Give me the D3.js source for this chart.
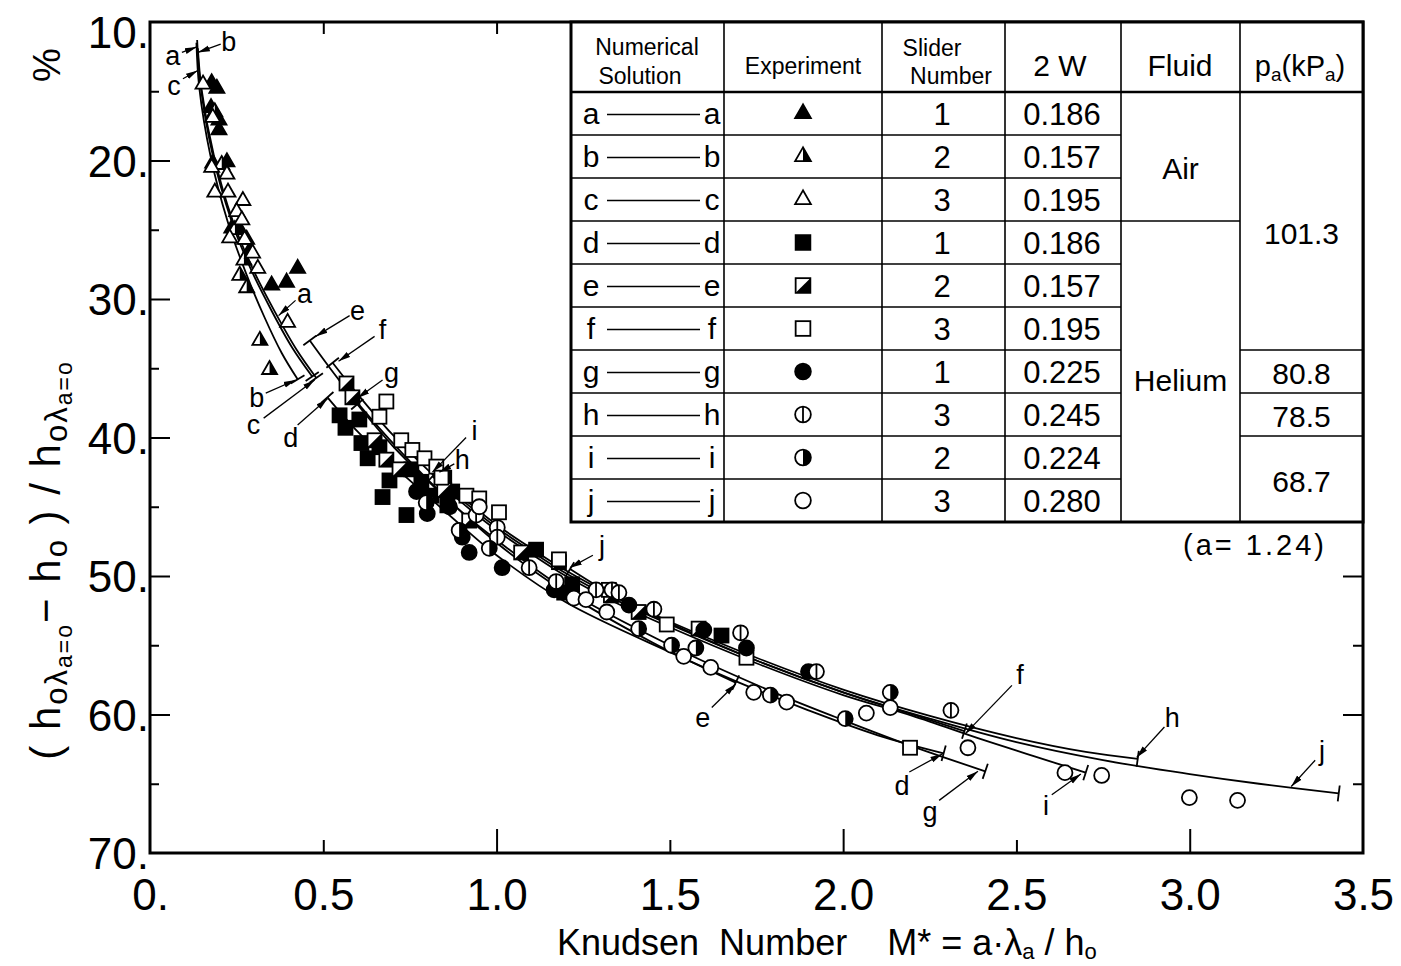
<!DOCTYPE html>
<html><head><meta charset="utf-8">
<script src="https://cdn.jsdelivr.net/npm/d3@7"></script>
<style>
body{margin:0;background:#fff}
svg{display:block}
text{font-family:"Liberation Sans",Arial,sans-serif;fill:#000}
</style></head>
<body><svg id="c" width="1401" height="966"></svg>
<script>
// ---------------- DATA ----------------
const xTickVals = [0, 0.5, 1.0, 1.5, 2.0, 2.5, 3.0, 3.5];
const xTickLabels = ["0.", "0.5", "1.0", "1.5", "2.0", "2.5", "3.0", "3.5"];
const yTickVals = [10, 20, 30, 40, 50, 60, 70];
const yTickLabels = ["10.", "20.", "30.", "40.", "50.", "60.", "70."];

// numerical solutions (curves): [M*, %]
const numA = [[0.136,11.3],[0.146,14.6],[0.180,19.5],[0.233,24.2],[0.292,27.9],[0.352,30.9],[0.410,33.5],[0.468,35.6]];
const numB = [[0.134,11.5],[0.142,14.7],[0.174,19.6],[0.224,24.4],[0.278,28.2],[0.330,31.3],[0.380,33.9],[0.426,35.8]];
const numC = [[0.138,11.9],[0.149,14.9],[0.184,19.6],[0.238,24.3],[0.298,27.9],[0.362,31.0],[0.424,33.7],[0.480,35.7]];
const numD = [[0.512,37.1],[0.6,39.6],[0.7,42.0],[0.8,44.2],[0.9,46.4],[1.0,48.5],[1.2,51.9],[1.5,55.5],[1.7,57.7],[1.9,59.7],[2.1,61.5],[2.29,62.8]];
const numE = [[0.461,33.0],[0.55,36.0],[0.65,39.0],[0.8,43.0],[1.0,47.6],[1.2,51.2],[1.45,54.8],[1.69,57.7]];
const numF = [[0.527,34.6],[0.6,36.9],[0.7,39.8],[0.8,42.3],[0.9,44.5],[1.0,46.5],[1.1,48.2],[1.2,49.8],[1.35,51.8],[1.5,53.5],[1.75,56.1],[2.0,58.4],[2.2,60.0],[2.35,61.2]];
const numG = [[0.598,37.6],[0.7,40.6],[0.8,43.1],[0.9,45.4],[1.0,47.4],[1.2,51.0],[1.5,55.0],[1.8,58.4],[2.0,60.4],[2.2,62.3],[2.41,64.1]];
const numH = [[0.835,42.9],[0.9,44.3],[1.0,46.3],[1.1,48.0],[1.2,49.6],[1.35,51.6],[1.5,53.3],[1.75,55.9],[2.0,58.2],[2.25,60.1],[2.5,61.7],[2.7,62.7],[2.85,63.2]];
const numI = [[0.815,42.8],[0.9,44.7],[1.0,46.7],[1.1,48.4],[1.2,50.0],[1.35,52.0],[1.5,53.7],[1.75,56.3],[2.0,58.6],[2.2,60.1],[2.4,61.8],[2.55,63.0],[2.70,64.2]];
const numJ = [[1.212,49.5],[1.35,51.6],[1.5,53.4],[1.75,56.1],[2.0,58.4],[2.25,60.3],[2.5,62.0],[2.75,63.3],[3.0,64.3],[3.2,65.0],[3.43,65.7]];

// experiments: [M*, %]
const expA = [[0.178,14.4],[0.193,14.8],[0.176,16.2],[0.199,17.1],[0.199,17.8],[0.181,20.2],[0.222,20.1],[0.236,24.9],[0.259,25.0],[0.279,25.7],[0.288,26.5],[0.351,29.0],[0.394,28.8],[0.426,27.8]];
const expB = [[0.187,16.5],[0.207,20.3],[0.245,25.0],[0.271,27.2],[0.259,28.3],[0.279,29.2],[0.317,33.0],[0.345,35.1]];
const expC = [[0.153,14.5],[0.181,16.9],[0.178,20.5],[0.222,21.0],[0.187,22.3],[0.225,22.3],[0.268,22.9],[0.250,23.7],[0.265,24.3],[0.230,25.6],[0.273,25.7],[0.296,26.7],[0.311,27.8],[0.397,31.7]];
const expD = [[0.547,38.4],[0.564,39.3],[0.604,38.7],[0.610,40.4],[0.628,41.5],[0.662,40.7],[0.691,43.1],[0.671,44.3],[0.740,45.6],[0.754,42.3],[0.783,43.2],[0.812,44.2],[0.849,42.9],[0.872,43.9],[0.858,44.9],[1.114,48.1],[1.218,50.6],[1.195,51.2],[1.649,54.3]];
const expE = [[0.567,36.1],[0.584,37.1],[0.648,40.2],[0.682,41.6],[0.720,42.3],[0.849,43.8],[0.921,46.0],[1.071,48.3],[1.180,49.0],[1.330,51.4],[1.410,52.6],[1.583,53.8]];
const expF = [[0.682,37.4],[0.662,38.5],[0.725,40.2],[0.757,40.9],[0.792,41.5],[0.826,42.1],[0.841,42.9],[0.913,44.2],[0.950,44.4],[1.007,45.4],[1.180,48.8],[1.324,51.0],[1.491,53.5],[1.721,55.9],[2.193,62.4]];
const expG = [[0.769,43.9],[0.800,45.5],[0.864,45.0],[0.901,47.2],[0.921,48.3],[1.016,49.4],[1.166,51.0],[1.382,52.1],[1.598,53.9],[1.721,55.2],[1.900,56.9]];
const expH = [[0.941,45.6],[1.002,46.5],[1.002,47.2],[1.094,49.4],[1.172,50.4],[1.287,51.0],[1.333,51.0],[1.353,51.2],[1.454,52.4],[1.704,54.1],[1.923,56.9],[2.311,59.7]];
const expI = [[0.797,44.7],[0.892,46.7],[0.979,48.0],[1.410,53.8],[1.505,55.0],[1.575,55.2],[1.790,58.6],[2.006,60.3],[2.136,58.4]];
const expJ = [[0.950,45.0],[1.223,51.6],[1.258,51.7],[1.318,52.6],[1.540,55.8],[1.618,56.6],[1.742,58.4],[1.837,59.1],[2.067,59.9],[2.136,59.5],[2.360,62.4],[2.640,64.2],[2.746,64.4],[2.999,66.0],[3.138,66.2]];

// curve labels: letter, label position, leader start, leader tip (data units)
const curveLabels = [
  ["a",[0.066,12.4],[0.092,12.2],[0.135,11.8]],
  ["b",[0.227,11.4],[0.204,11.6],[0.138,12.2]],
  ["c",[0.069,14.6],[0.095,14.1],[0.138,13.5]],
  ["a",[0.446,29.6],[0.420,30.1],[0.371,31.2]],
  ["b",[0.308,37.1],[0.334,36.8],[0.420,35.85]],
  ["c",[0.299,39.1],[0.328,38.6],[0.475,35.85]],
  ["d",[0.406,40.0],[0.426,39.1],[0.512,37.2]],
  ["e",[0.599,30.8],[0.576,31.2],[0.478,32.7]],
  ["f",[0.671,32.2],[0.648,32.7],[0.544,34.5]],
  ["g",[0.697,35.3],[0.671,35.85],[0.599,37.15]],
  ["i",[0.936,39.5],[0.912,40.0],[0.815,42.5]],
  ["h",[0.901,41.6],[0.878,41.9],[0.835,42.5]],
  ["j",[1.304,47.8],[1.278,48.5],[1.212,49.4]],
  ["e",[1.595,60.2],[1.621,59.5],[1.690,57.8]],
  ["f",[2.510,57.1],[2.487,57.9],[2.352,61.4]],
  ["h",[2.950,60.2],[2.927,60.9],[2.847,63.1]],
  ["j",[3.382,62.6],[3.362,63.3],[3.293,65.2]],
  ["d",[2.170,65.1],[2.191,64.15],[2.286,62.85]],
  ["g",[2.251,67.0],[2.277,66.2],[2.389,64.1]],
  ["i",[2.585,66.6],[2.602,65.8],[2.686,64.3]]
];

// table
const solLetters = ["a","b","c","d","e","f","g","h","i","j"];
const expSymbols = ["triFill","triHalf","triOpen","sqFill","sqHalf","sqOpen","cirFill","cirBar","cirHalf","cirOpen"];
const sliderNumbers = ["1","2","3","1","2","3","1","3","2","3"];
const widths2W = ["0.186","0.157","0.195","0.186","0.157","0.195","0.225","0.245","0.224","0.280"];
const fluids = [["Air",0,2],["Helium",3,9]];
const pressures = [["101.3",0,5],["80.8",6,6],["78.5",7,7],["68.7",8,9]];

// ---------------- DRAW ----------------
const svg = d3.select("#c");
const W = 1401, H = 966;
const L = 150, R = 1363, T = 22, B = 853;
const x = d3.scaleLinear().domain([0, 3.5]).range([L, R]);
const y = d3.scaleLinear().domain([10, 70]).range([T, B]);

svg.append("rect").attr("width", W).attr("height", H).attr("fill", "#fff");

const defs = svg.append("defs");
defs.append("marker").attr("id","arr").attr("viewBox","0 0 12 8").attr("refX",12).attr("refY",4)
  .attr("markerWidth",12).attr("markerHeight",8).attr("markerUnits","userSpaceOnUse").attr("orient","auto")
  .append("path").attr("d","M0,1 L12,4 L0,7 Z").attr("fill","#000");

// axes tick labels
const fontAx = "'Liberation Sans', Arial, sans-serif";
const gx = svg.append("g").attr("transform", `translate(0,${B})`)
  .call(d3.axisBottom(x).tickValues(xTickVals).tickFormat((d,i)=>xTickLabels[i]).tickSize(0).tickPadding(26));
gx.select(".domain").remove();
gx.selectAll("text").attr("font-size", 44).attr("font-family", fontAx).attr("fill","#000");

const gy = svg.append("g").attr("transform", `translate(${L},0)`)
  .call(d3.axisLeft(y).tickValues(yTickVals).tickFormat((d,i)=>yTickLabels[i]).tickSize(0).tickPadding(1));
gy.select(".domain").remove();
gy.selectAll("text").attr("font-size", 44).attr("font-family", fontAx).attr("fill","#000")
  .attr("dy", (d,i)=> i===0 ? "0.58em" : "0.36em");

// inward ticks
function inTicks(axisFn, scale, vals, size, tr){
  const g = svg.append("g").attr("transform", tr)
    .call(axisFn(scale).tickValues(vals).tickSize(size).tickFormat(""));
  g.select(".domain").remove();
  g.selectAll("line").attr("stroke","#000").attr("stroke-width",2);
}
inTicks(d3.axisBottom, x, [1,2,3], -24, `translate(0,${B})`);
inTicks(d3.axisBottom, x, [0.5,1.5,2.5], -13, `translate(0,${B})`);
inTicks(d3.axisTop, x, [0.5,1.0], -12, `translate(0,${T})`);
inTicks(d3.axisLeft, y, [20,30,40,50,60], -20, `translate(${L},0)`);
inTicks(d3.axisLeft, y, [15,25,35,45,55,65], -9, `translate(${L},0)`);
inTicks(d3.axisRight, y, [50,60], -20, `translate(${R},0)`);
inTicks(d3.axisRight, y, [55,65], -10, `translate(${R},0)`);

// frame
svg.append("rect").attr("x", L).attr("y", T).attr("width", R-L).attr("height", B-T)
  .attr("fill","none").attr("stroke","#000").attr("stroke-width",3);

// curves
const line = d3.line().x(d=>x(d[0])).y(d=>y(d[1])).curve(d3.curveCatmullRom.alpha(0.5));
const curves = [["a",numA],["b",numB],["c",numC],["d",numD],["e",numE],["f",numF],["g",numG],["h",numH],["i",numI],["j",numJ]];
const gc = svg.append("g");
curves.forEach(([name, pts])=>{
  gc.append("path").attr("d", line(pts)).attr("fill","none").attr("stroke","#000").attr("stroke-width",1.8);
  const ends = [];
  if (!["a","b","c"].includes(name)) ends.push([pts[0], pts[1]]);
  ends.push([pts[pts.length-1], pts[pts.length-2]]);
  ends.forEach(([p, q])=>{
    const px = x(p[0]), py = y(p[1]), qx = x(q[0]), qy = y(q[1]);
    let dx = px-qx, dy = py-qy; const n = Math.hypot(dx,dy); dx/=n; dy/=n;
    const len = 8;
    gc.append("line").attr("x1", px - dy*len).attr("y1", py + dx*len)
      .attr("x2", px + dy*len).attr("y2", py - dx*len).attr("stroke","#000").attr("stroke-width",1.8);
  });
});

// markers
function drawMarker(g, type, cx, cy, k){
  k = k || 1;
  const sw = 1.8;
  const grp = g.append("g").attr("transform", `translate(${cx},${cy})`);
  if (type.startsWith("tri")){
    const s = 15*k, h = s*0.87;
    const tri = `M0,${-2*h/3} L${-s/2},${h/3} L${s/2},${h/3} Z`;
    if (type==="triFill") grp.append("path").attr("d",tri).attr("fill","#000").attr("stroke","#000").attr("stroke-width",sw);
    else {
      grp.append("path").attr("d",tri).attr("fill","#fff").attr("stroke","#000").attr("stroke-width",sw);
      if (type==="triHalf") grp.append("path").attr("d",`M0,${-2*h/3} L0,${h/3} L${s/2},${h/3} Z`).attr("fill","#000");
    }
  } else if (type.startsWith("sq")){
    const s = 14*k;
    grp.append("rect").attr("x",-s/2).attr("y",-s/2).attr("width",s).attr("height",s)
      .attr("fill", type==="sqFill"?"#000":"#fff").attr("stroke","#000").attr("stroke-width",sw);
    if (type==="sqHalf") grp.append("path").attr("d",`M${s/2},${-s/2} L${s/2},${s/2} L${-s/2},${s/2} Z`).attr("fill","#000");
  } else {
    const r = 7.5*k;
    grp.append("circle").attr("r",r).attr("fill", type==="cirFill"?"#000":"#fff").attr("stroke","#000").attr("stroke-width",sw);
    if (type==="cirBar") grp.append("line").attr("x1",0).attr("x2",0).attr("y1",-r).attr("y2",r).attr("stroke","#000").attr("stroke-width",sw);
    if (type==="cirHalf") grp.append("path").attr("d",`M0,${-r} A${r},${r} 0 0 1 0,${r} Z`).attr("fill","#000");
  }
}
const expSeries = [[expA,"triFill"],[expB,"triHalf"],[expC,"triOpen"],[expD,"sqFill"],[expE,"sqHalf"],[expF,"sqOpen"],[expG,"cirFill"],[expH,"cirBar"],[expI,"cirHalf"],[expJ,"cirOpen"]];
const gm = svg.append("g");
expSeries.forEach(([pts, type])=>{
  pts.forEach(p=>drawMarker(gm, type, x(p[0]), y(p[1])));
});

// curve labels with leaders
const gl = svg.append("g");
curveLabels.forEach(([t, lp, ls, tip])=>{
  gl.append("line").attr("x1",x(ls[0])).attr("y1",y(ls[1])).attr("x2",x(tip[0])).attr("y2",y(tip[1]))
    .attr("stroke","#000").attr("stroke-width",1.3).attr("marker-end","url(#arr)");
  gl.append("text").attr("x",x(lp[0])).attr("y",y(lp[1])).attr("text-anchor","middle").attr("dy","0.35em")
    .attr("font-size",27).text(t);
});

// ---------------- TABLE ----------------
const cols = [571, 724, 882, 1005, 1121, 1240, 1363];
const rowTop = 92, rowH = 43;
const tTop = 22, tBot = rowTop + rowH*10;
const gt = svg.append("g");
gt.append("rect").attr("x",cols[0]).attr("y",tTop).attr("width",cols[6]-cols[0]).attr("height",tBot-tTop)
  .attr("fill","#fff").attr("stroke","#000").attr("stroke-width",3);
cols.slice(1,6).forEach(c=>gt.append("line").attr("x1",c).attr("x2",c).attr("y1",tTop).attr("y2",tBot).attr("stroke","#000").attr("stroke-width",1.6));
gt.append("line").attr("x1",cols[0]).attr("x2",cols[6]).attr("y1",rowTop).attr("y2",rowTop).attr("stroke","#000").attr("stroke-width",2.6);
for (let i=1;i<10;i++){
  const yy = rowTop + rowH*i;
  gt.append("line").attr("x1",cols[0]).attr("x2",cols[4]).attr("y1",yy).attr("y2",yy).attr("stroke","#000").attr("stroke-width",1.4);
}
fluids.forEach(([nm,a,b])=>{
  if (b<9){ const yy = rowTop+rowH*(b+1); gt.append("line").attr("x1",cols[4]).attr("x2",cols[5]).attr("y1",yy).attr("y2",yy).attr("stroke","#000").attr("stroke-width",1.4); }
  const cy = rowTop + rowH*(a+b+1)/2 + (nm==="Air"?12:9);
  gt.append("text").attr("x",(cols[4]+cols[5])/2).attr("y",cy).attr("dy","0.35em").attr("text-anchor","middle").attr("font-size",30).text(nm);
});
pressures.forEach(([v,a,b])=>{
  if (b<9){ const yy = rowTop+rowH*(b+1); gt.append("line").attr("x1",cols[5]).attr("x2",cols[6]).attr("y1",yy).attr("y2",yy).attr("stroke","#000").attr("stroke-width",1.4); }
  const cy = rowTop + rowH*(a+b+1)/2 + (a===0?12:2);
  gt.append("text").attr("x",(cols[5]+cols[6])/2).attr("y",cy).attr("dy","0.35em").attr("text-anchor","middle").attr("font-size",30).text(v);
});
// header
function hText(t, xx, yy, fs, anchor){ return gt.append("text").attr("x",xx).attr("y",yy).attr("text-anchor",anchor||"middle").attr("font-size",fs).text(t); }
hText("Numerical", 647, 55, 23); hText("Solution", 640, 84, 23);
hText("Experiment", 803, 74, 23);
hText("Slider", 932, 56, 23); hText("Number", 951, 84, 23);
hText("2 W", 1060, 76, 30);
hText("Fluid", 1180, 76, 30);
const pa = gt.append("text").attr("x",1300).attr("y",76).attr("text-anchor","middle").attr("font-size",29);
pa.append("tspan").text("p"); pa.append("tspan").attr("font-size",19).attr("dy",5).text("a");
pa.append("tspan").attr("dy",-5).text("(kP"); pa.append("tspan").attr("font-size",19).attr("dy",5).text("a");
pa.append("tspan").attr("dy",-5).text(")");
// rows
solLetters.forEach((s,i)=>{
  const cy = rowTop + rowH*(i+0.5);
  gt.append("text").attr("x",591).attr("y",cy).attr("dy","0.35em").attr("text-anchor","middle").attr("font-size",30).text(s);
  gt.append("line").attr("x1",607).attr("x2",700).attr("y1",cy+1).attr("y2",cy+1).attr("stroke","#000").attr("stroke-width",1.4);
  gt.append("text").attr("x",712).attr("y",cy).attr("dy","0.35em").attr("text-anchor","middle").attr("font-size",30).text(s);
  drawMarker(gt, expSymbols[i], 803, cy, 1.05);
  gt.append("text").attr("x",942).attr("y",cy).attr("dy","0.36em").attr("text-anchor","middle").attr("font-size",31).text(sliderNumbers[i]);
  gt.append("text").attr("x",1062).attr("y",cy).attr("dy","0.36em").attr("text-anchor","middle").attr("font-size",31).text(widths2W[i]);
});
svg.append("text").attr("x",1255).attr("y",555).attr("text-anchor","middle").attr("font-size",29).attr("letter-spacing",3).text("(a= 1.24)");

// ---------------- AXIS TITLES ----------------
const xt = svg.append("text").attr("x",557).attr("y",955).attr("font-size",36).attr("xml:space","preserve");
xt.append("tspan").text("Knudsen  Number    M* = a·λ");
xt.append("tspan").attr("font-size",22).attr("dy",4).text("a");
xt.append("tspan").attr("dy",-4).text(" / h");
xt.append("tspan").attr("font-size",22).attr("dy",4).text("o");

const yt = svg.append("text").attr("transform","translate(60,560) rotate(-90)").attr("text-anchor","middle")
  .attr("font-size",42).attr("letter-spacing",2).attr("xml:space","preserve");
const segs = [["( h",0],["oλ",1],["a=o",2],["− h",0],["o",1],[" ) / h",0],["oλ",1],["a=o",2]];
let cur = 0;
segs.forEach(([t,lvl])=>{
  const target = lvl===0?0:(lvl===1?7:12);
  const fs = lvl===0?42:(lvl===1?31:23);
  yt.append("tspan").attr("dy", target-cur).attr("font-size",fs).text(t);
  cur = target;
});
svg.append("text").attr("transform","translate(60,65) rotate(-90)").attr("text-anchor","middle").attr("font-size",38).text("%");
</script></body></html>
